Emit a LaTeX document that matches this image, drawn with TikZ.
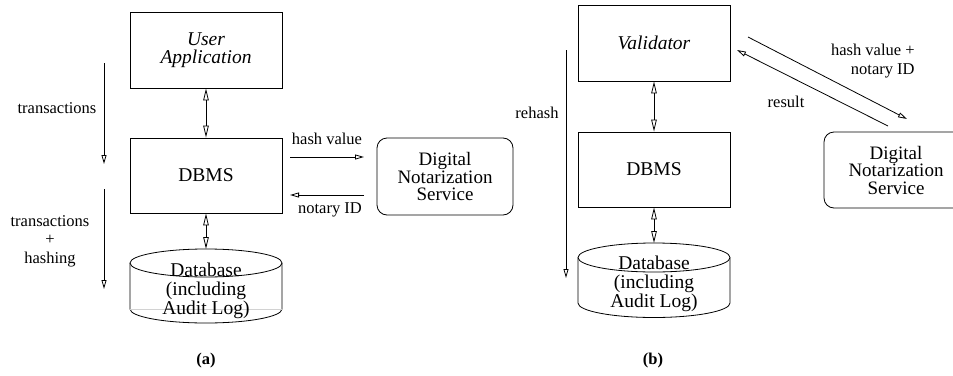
\documentclass[tikz,border=0pt]{standalone}
\usepackage{fontspec}
\setmainfont{Liberation Serif}
\usetikzlibrary{arrows.meta}
\begin{document}
\begin{tikzpicture}[x=1pt,y=-1pt,
  line width=0.8pt,
  box/.style={draw, minimum width=152pt, minimum height=76pt, inner sep=0pt,
    font=\fontsize{19.5}{18.5}\selectfont, align=center},
  svc/.style={draw, rounded corners=10pt, inner sep=0pt,
    font=\fontsize{19}{17.5}\selectfont, align=center},
  lbl/.style={font=\fontsize{16.5}{18.5}\selectfont, align=center, inner sep=0pt},
  dbtext/.style={font=\fontsize{19.5}{19}\selectfont, align=center, inner sep=0pt},
  subcap/.style={font=\bfseries\fontsize{16.5}{18}\selectfont, inner sep=0pt},
  tip/.style={-{Triangle[open,length=9pt,width=5pt]}},
  both/.style={{Triangle[open,length=12pt,width=5.5pt]}-{Triangle[open,length=12pt,width=5.5pt]}},
]
\useasboundingbox (0,0) rectangle (953,375);

% ---------- (a) ----------
\node[box] (ua) at (206,50) {\itshape User\\\itshape Application};
\node[box, minimum height=75pt] (dbmsA) at (206,175.5) {DBMS};
\node[svc, minimum width=136pt, minimum height=77pt] (dnsA) at (445,176.5)
  {Digital\\Notarization\\Service};

% database cylinder
\draw (206,263) ellipse[x radius=76pt, y radius=14pt];
\draw (130,263) -- (130,309) arc[start angle=180, end angle=360, x radius=76pt, y radius=14pt] -- (282,263);
\draw[gray!35, line width=0.6pt] (130,309) -- (282,309);
\coordinate (dbAtop) at (206,249);
\node[dbtext] (dbA) at (206,291) {Database\\(including\\Audit Log)};

\draw[both] (ua) -- (dbmsA);
\draw[both] (dbmsA) -- (dbAtop);

% hash value / notary ID exchange
\coordinate (hvA1) at (290,157);
\coordinate (hvA2) at (364,157);
\coordinate (idA1) at (364,195);
\coordinate (idA2) at (290,195);
\draw[tip] (hvA1) -- (hvA2);
\draw[tip] (idA1) -- (idA2);
\node[lbl] (hvlA) at (327,139) {hash value};
\node[lbl] (idlA) at (330,210) {notary ID};

% flow arrows on the left
\coordinate (trA1) at (104,63);
\coordinate (trA2) at (104,164);
\coordinate (thA1) at (104,189);
\coordinate (thA2) at (104,289);
\draw[tip] (trA1) -- (trA2);
\draw[tip] (thA1) -- (thA2);
\node[lbl] (trl) at (57,108) {transactions};
\node[lbl] (thl) at (50,241) {transactions\\+\\hashing};

\node[subcap] (capA) at (206,361) {(a)};

% ---------- (b) ----------
\node[box] (val) at (654,43) {\itshape Validator};
\node[box, minimum height=75pt] (dbmsB) at (654,169.5) {DBMS};
\node[svc, minimum width=144pt, minimum height=76pt] (dnsB) at (896,170)
  {Digital\\Notarization\\Service};

\draw (654,257.5) ellipse[x radius=76pt, y radius=14.5pt];
\draw (578,257.5) -- (578,303) arc[start angle=180, end angle=360, x radius=76pt, y radius=14.5pt] -- (730,257.5);
\coordinate (dbBtop) at (654,243);
\node[dbtext] (dbB) at (654,284) {Database\\(including\\Audit Log)};

\draw[both] (val) -- (dbmsB);
\draw[both] (dbmsB) -- (dbBtop);

% rehash
\coordinate (rhB1) at (566,50);
\coordinate (rhB2) at (566,278);
\draw[tip] (rhB1) -- (rhB2);
\node[lbl] (rhl) at (537,113) {rehash};

% validator <-> notarization service
\coordinate (hvB1) at (748,37);
\coordinate (hvB2) at (907,119);
\coordinate (rsB1) at (888,126);
\coordinate (rsB2) at (737,50);
\draw[tip] (hvB1) -- (hvB2);
\draw[tip] (rsB1) -- (rsB2);
\node[lbl, align=right, anchor=east] (hvlB) at (915,61) {hash value +\\notary ID};
\node[lbl] (rsl) at (786,102) {result};

\node[subcap] (capB) at (653,361) {(b)};
\end{tikzpicture}
\end{document}
